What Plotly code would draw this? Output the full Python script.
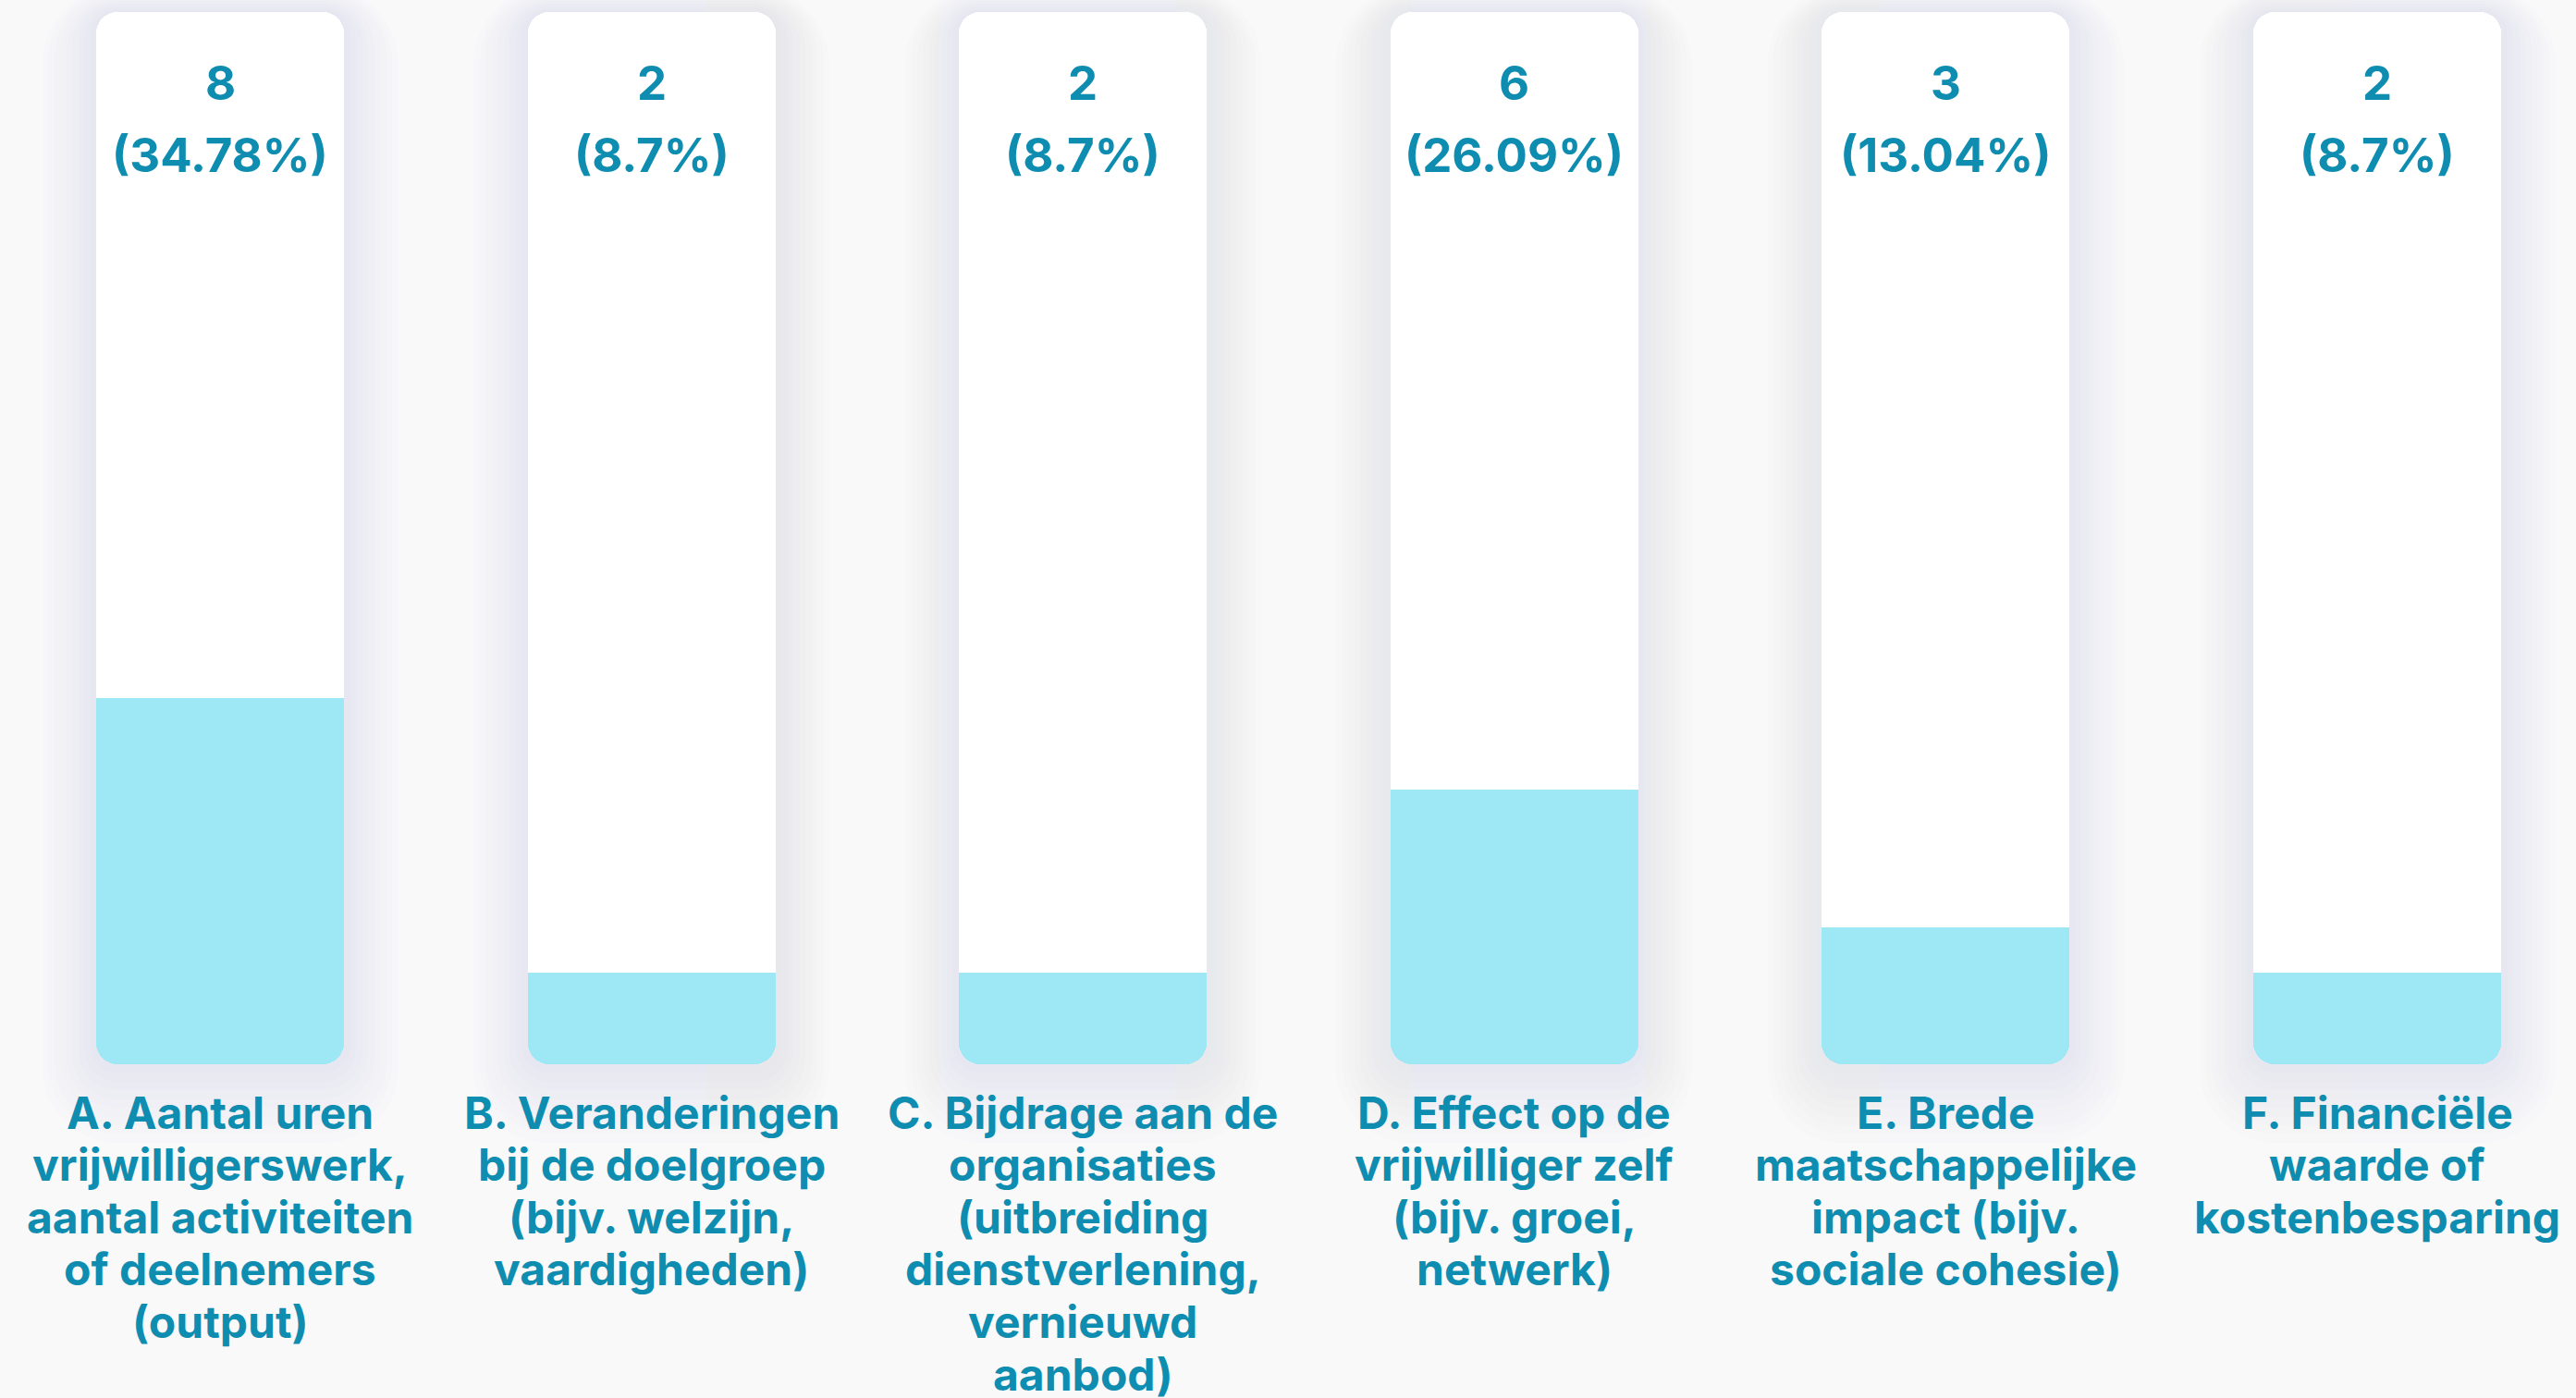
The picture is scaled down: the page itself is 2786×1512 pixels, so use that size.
import plotly.graph_objects as go

# ---------------- data ----------------
categories = [
    "A. Aantal uren vrijwilligerswerk, aantal activiteiten of deelnemers (output)",
    "B. Veranderingen bij de doelgroep (bijv. welzijn, vaardigheden)",
    "C. Bijdrage aan de organisaties (uitbreiding dienstverlening, vernieuwd aanbod)",
    "D. Effect op de vrijwilliger zelf (bijv. groei, netwerk)",
    "E. Brede maatschappelijke impact (bijv. sociale cohesie)",
    "F. Financiële waarde of kostenbesparing",
]
label_lines = [
    ["A. Aantal uren", "vrijwilligerswerk,", "aantal activiteiten", "of deelnemers", "(output)"],
    ["B. Veranderingen", "bij de doelgroep", "(bijv. welzijn,", "vaardigheden)"],
    ["C. Bijdrage aan de", "organisaties", "(uitbreiding", "dienstverlening,", "vernieuwd", "aanbod)"],
    ["D. Effect op de", "vrijwilliger zelf", "(bijv. groei,", "netwerk)"],
    ["E. Brede", "maatschappelijke", "impact (bijv.", "sociale cohesie)"],
    ["F. Financiële", "waarde of", "kostenbesparing"],
]
counts = [8, 2, 2, 6, 3, 2]
total = sum(counts)

# ---------------- style / geometry ----------------
W, H = 2786, 1512
BG = "#f9f9fa"
TEXT = "#0e8db0"
FILL = "#9ee7f4"
TRACK = "#ffffff"
FONT = "Inter"

kx = 466.6            # px per category
x0px = 238.0          # pixel centre of first category
ky = 1138.0 / total   # px per count unit
y0px = 1151.0         # pixel of value 0
BW = 268.0 / kx       # bar width in category units
RADIUS = 23

xr = [-x0px / kx, (W - x0px) / kx]
yr = [-(H - y0px) / ky, y0px / ky]


def py(p):
    """pixel row -> data y"""
    return (y0px - p) / ky


fig = go.Figure()


def rounded_rect(bottom, top, width, color, radius, opacity=1.0):
    # drawn downward from the top so both ends get rounded corners
    fig.add_trace(go.Bar(
        x=categories, y=[bottom - top] * len(categories), base=[top] * len(categories),
        width=width, marker=dict(color=color, line=dict(width=0), cornerradius=radius),
        opacity=opacity, hoverinfo="skip", showlegend=False,
    ))


# soft shadow layers
N = 9
for j in range(N, 0, -1):
    d = j * 6.5
    rounded_rect(-(d * 1.45) / ky, total + (d * 0.45) / ky, BW + 2 * d / kx,
                 "rgb(208,210,216)", RADIUS + d, opacity=0.034)

# white track
rounded_rect(0, total, BW, TRACK, RADIUS)

# value fill: rounded bar from value to 0 ...
fig.add_trace(go.Bar(
    x=categories, y=[-c for c in counts], base=counts, width=BW,
    marker=dict(color=FILL, line=dict(width=0), cornerradius=RADIUS),
    hoverinfo="skip", showlegend=False,
))
# ... with a square cap so the top edge of the fill stays flat
cap = (RADIUS + 3) / ky
fig.add_trace(go.Bar(
    x=categories, y=[-cap] * len(counts), base=counts, width=BW,
    marker=dict(color=FILL, line=dict(width=0), cornerradius=0),
    hoverinfo="skip", showlegend=False,
))

annotations = []
for cat, cnt, lines in zip(categories, counts, label_lines):
    pct = f"{round(cnt / total * 100, 2):g}"
    for txt, p in ((str(cnt), 89), (f"({pct}%)", 167)):
        annotations.append(dict(
            x=cat, y=py(p), xref="x", yref="y", text=txt, showarrow=False,
            xanchor="center", yanchor="middle",
            font=dict(family=FONT, size=51, color=TEXT, weight=700),
        ))
    for i, line in enumerate(lines):
        annotations.append(dict(
            x=cat, y=py(1203 + 56.6 * i), xref="x", yref="y", text=line, showarrow=False,
            xanchor="center", yanchor="middle",
            font=dict(family=FONT, size=48, color=TEXT, weight=700),
        ))

fig.update_layout(
    width=W, height=H,
    margin=dict(l=0, r=0, t=0, b=0, pad=0),
    paper_bgcolor=BG, plot_bgcolor=BG,
    barmode="overlay", bargap=0,
    xaxis=dict(range=xr, visible=False, fixedrange=True),
    yaxis=dict(range=yr, visible=False, fixedrange=True),
    annotations=annotations,
    showlegend=False,
)

fig.write_html(
    "out.html",
    config={"displayModeBar": False},
    post_script="document.body.style.margin='0';document.body.style.background='%s';" % BG,
)
